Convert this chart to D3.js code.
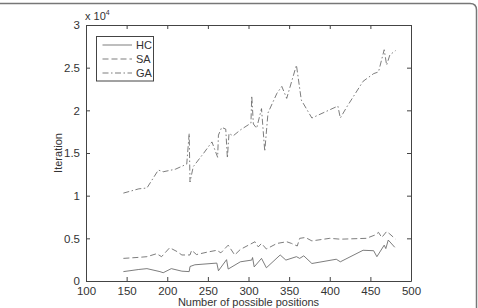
<!DOCTYPE html>
<html>
<head>
<meta charset="utf-8">
<script src="https://cdn.jsdelivr.net/npm/d3@7"></script>
<style>
  body { margin: 0; background: #fff; }
  svg text { font-family: "Liberation Sans", Arial, sans-serif; fill: #333; }
</style>
</head>
<body>
<div id="chart"></div>
<script>
// series: [positions, iterations]
const hcX = [146, 165, 175, 191, 195, 205, 218, 227, 228, 234, 261, 263, 273, 275, 290, 304, 305, 307, 316, 322, 339, 346, 359, 363, 368, 378, 408, 413, 441, 454, 458, 467, 469, 472, 480];
const hcY = [1100, 1350, 1450, 1100, 970, 1450, 1150, 1100, 1700, 1900, 2100, 1200, 2500, 1400, 2250, 2450, 2750, 1650, 2650, 1550, 3050, 2450, 2850, 2650, 2950, 2050, 2550, 2250, 3600, 3550, 2850, 4200, 3800, 4800, 3950];

const saX = [146, 165, 175, 187, 193, 203, 212, 218, 228, 230, 236, 250, 261, 266, 275, 283, 290, 308, 312, 316, 322, 335, 347, 353, 360, 363, 370, 378, 400, 413, 445, 456, 460, 464, 470, 474, 481];
const saY = [2650, 2770, 2850, 3200, 2850, 3900, 3450, 3050, 3050, 3600, 3100, 3400, 3600, 3300, 4200, 3050, 3700, 4600, 4000, 4400, 3750, 4400, 4600, 4400, 4100, 5000, 5100, 4700, 5000, 4900, 5000, 5400, 5700, 5100, 5800, 5500, 4900];

const gaX = [146, 165, 175, 189, 195, 210, 224, 227, 228, 232, 245, 255, 262, 263, 267, 272, 274, 276, 281, 290, 303, 304, 306, 310, 316, 320, 324, 335, 341, 347, 359, 365, 378, 410, 413, 421, 441, 454, 460, 467, 470, 474, 481];
const gaY = [10300, 10800, 10900, 13000, 12800, 13100, 13700, 17300, 11600, 13400, 15000, 16300, 14500, 17100, 18000, 17800, 14400, 17300, 17000, 17700, 18500, 21700, 18400, 17900, 20200, 15200, 19700, 22000, 22800, 21400, 25300, 21200, 19100, 20500, 19100, 20400, 23400, 24300, 24500, 27100, 25300, 26500, 27000];

const xTicks = [100, 150, 200, 250, 300, 350, 400, 450, 500];
const yTicks = [0, 5000, 10000, 15000, 20000, 25000, 30000];
const yTickLabels = ['0', '0.5', '1', '1.5', '2', '2.5', '3'];
const seriesNames = ['HC', 'SA', 'GA'];

const w = 478;
const h = 308;
const margin = { left: 86, right: 67, top: 25, bottom: 27 };

const svg = d3.select('#chart')
  .append('svg')
  .attr('width', w)
  .attr('height', h);

// outer frame (top and right edges visible)
svg.append('path')
  .attr('d', `M0,3.5 H470 Q476.5,3.5 476.5,10 V${h}`)
  .attr('fill', 'none')
  .attr('stroke', '#777')
  .attr('stroke-width', 1.5);

const xScale = d3.scaleLinear()
  .domain([100, 500])
  .range([margin.left, w - margin.right]);
const yScale = d3.scaleLinear()
  .domain([0, 30000])
  .range([h - margin.bottom, margin.top]);

const x0 = xScale.range()[0], x1 = xScale.range()[1];
const y0 = yScale.range()[0], y1 = yScale.range()[1];

// axes, MATLAB style: inward ticks on every side
const xAxis = d3.axisBottom(xScale).tickValues(xTicks).tickSizeInner(-4).tickSizeOuter(0).tickPadding(6);
const xAxisTop = d3.axisTop(xScale).tickValues(xTicks).tickSizeInner(-4).tickSizeOuter(0).tickFormat('');
const yAxis = d3.axisLeft(yScale).tickValues(yTicks).tickSizeInner(-4).tickSizeOuter(0).tickPadding(6)
  .tickFormat((d, i) => yTickLabels[i]);
const yAxisRight = d3.axisRight(yScale).tickValues(yTicks).tickSizeInner(-4).tickSizeOuter(0).tickFormat('');

function styleAxis(g) {
  g.select('.domain').attr('stroke', '#444');
  g.selectAll('.tick line').attr('stroke', '#444');
  g.selectAll('.tick text').attr('font-size', 11.5).attr('fill', '#333')
    .attr('font-family', '"Liberation Sans", Arial, sans-serif');
}

svg.append('g').attr('transform', `translate(0,${y0})`).call(xAxis).call(styleAxis);
svg.append('g').attr('transform', `translate(0,${y1})`).call(xAxisTop).call(styleAxis);
svg.append('g').attr('transform', `translate(${x0},0)`).call(yAxis).call(styleAxis);
svg.append('g').attr('transform', `translate(${x1},0)`).call(yAxisRight).call(styleAxis);

// exponent label
const expo = svg.append('text')
  .attr('x', x0 - 1)
  .attr('y', y1 - 5)
  .attr('font-size', 11);
expo.append('tspan').text('x 10');
expo.append('tspan').attr('font-size', 7).attr('dy', -5).text('4');

// axis titles
svg.append('text')
  .attr('x', (x0 + x1) / 2)
  .attr('y', h - 2)
  .attr('text-anchor', 'middle')
  .attr('font-size', 11)
  .text('Number of possible positions');
svg.append('text')
  .attr('transform', `translate(62,${(y0 + y1) / 2}) rotate(-90)`)
  .attr('text-anchor', 'middle')
  .attr('font-size', 11)
  .text('Iteration');

const line = d3.line()
  .x(d => xScale(d[0]))
  .y(d => yScale(d[1]));

const dashes = ['none', '6,3', '6,2.5,1.5,2.5'];
const series = [
  d3.zip(hcX, hcY),
  d3.zip(saX, saY),
  d3.zip(gaX, gaY)
];

series.forEach((data, i) => {
  svg.append('path')
    .datum(data)
    .attr('d', line)
    .attr('fill', 'none')
    .attr('stroke', '#666')
    .attr('stroke-width', 0.85)
    .attr('stroke-dasharray', dashes[i]);
});

// legend
const legend = svg.append('g').attr('id', 'legend');
legend.append('rect')
  .attr('x', 96.5)
  .attr('y', 36.5)
  .attr('width', 57)
  .attr('height', 44.5)
  .attr('fill', '#fff')
  .attr('stroke', '#444')
  .attr('stroke-width', 1);

seriesNames.forEach((name, i) => {
  const ly = 45 + i * 14;
  legend.append('line')
    .attr('x1', 102.5)
    .attr('x2', 132)
    .attr('y1', ly)
    .attr('y2', ly)
    .attr('stroke', '#666')
    .attr('stroke-width', 0.85)
    .attr('stroke-dasharray', dashes[i]);
  legend.append('text')
    .attr('x', 136)
    .attr('y', ly + 4)
    .attr('font-size', 11)
    .text(name);
});
</script>
</body>
</html>
